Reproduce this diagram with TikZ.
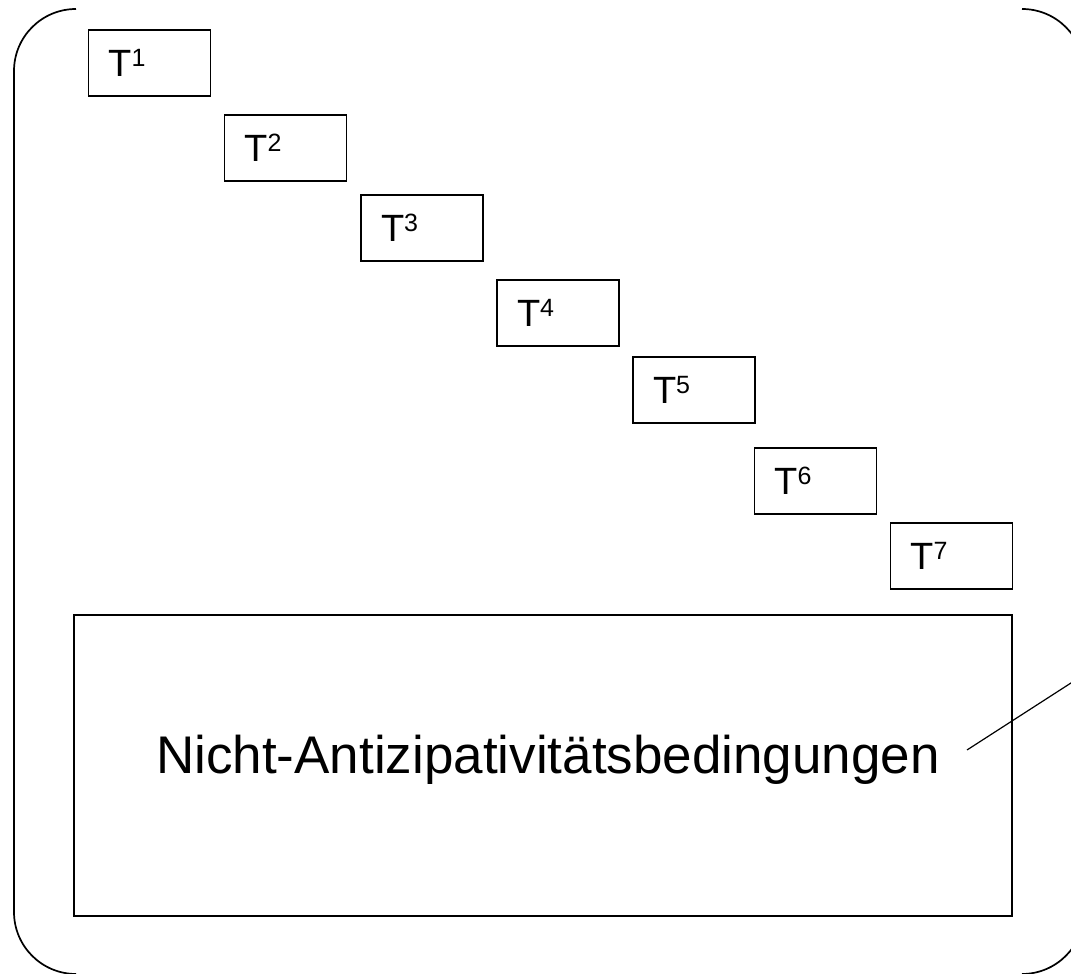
\documentclass[tikz,border=0pt]{standalone}
\usepackage{fontspec}
\setmainfont{Liberation Sans}
\newcommand{\hochzahl}[1]{\raisebox{10pt}{\fontsize{25}{25}\selectfont #1}}
\tikzset{
  tbox/.style={draw, line width=1.7pt, minimum width=122pt, minimum height=66pt,
    text width=82pt, inner xsep=20pt, inner ysep=0pt, align=left,
    font=\fontsize{38}{40}\selectfont},
  nabox/.style={draw, line width=1.7pt, minimum width=938pt, minimum height=301pt}
}
\begin{document}
\begin{tikzpicture}[x=1pt,y=1pt]
    \useasboundingbox (0,0) rectangle (1071,974);
    \clip (0,0) rectangle (1071,974);
    \draw[line width=1.7pt] (76,965) arc[start angle=90,end angle=180,radius=62]
      -- (14,62) arc[start angle=180,end angle=270,radius=62];
    \draw[line width=1.7pt] (1022,965) arc[start angle=90,end angle=0,radius=62]
      -- (1084,62) arc[start angle=0,end angle=-90,radius=62];

    \foreach \i/\x/\y in {1/149.5/911, 2/285.5/826, 3/422/746, 4/558/661,
                          5/694/584, 6/815.5/493, 7/951.5/418} {
      \node[tbox] (t\i) at (\x,\y) {T\hochzahl{\i}};
    }

    \node[nabox] (nab) at (543,208.5) {};
    \node[anchor=base, font=\fontsize{53}{60}\selectfont] (nabtext) at (548,200)
      {Nicht-Antizipativitätsbedingungen};

    \coordinate (zeiger) at (967,224);
    \coordinate (zeigerende) at (1120,322.6);
    \draw[line width=1.2pt] (zeiger) -- (zeigerende);
\end{tikzpicture}
\end{document}
